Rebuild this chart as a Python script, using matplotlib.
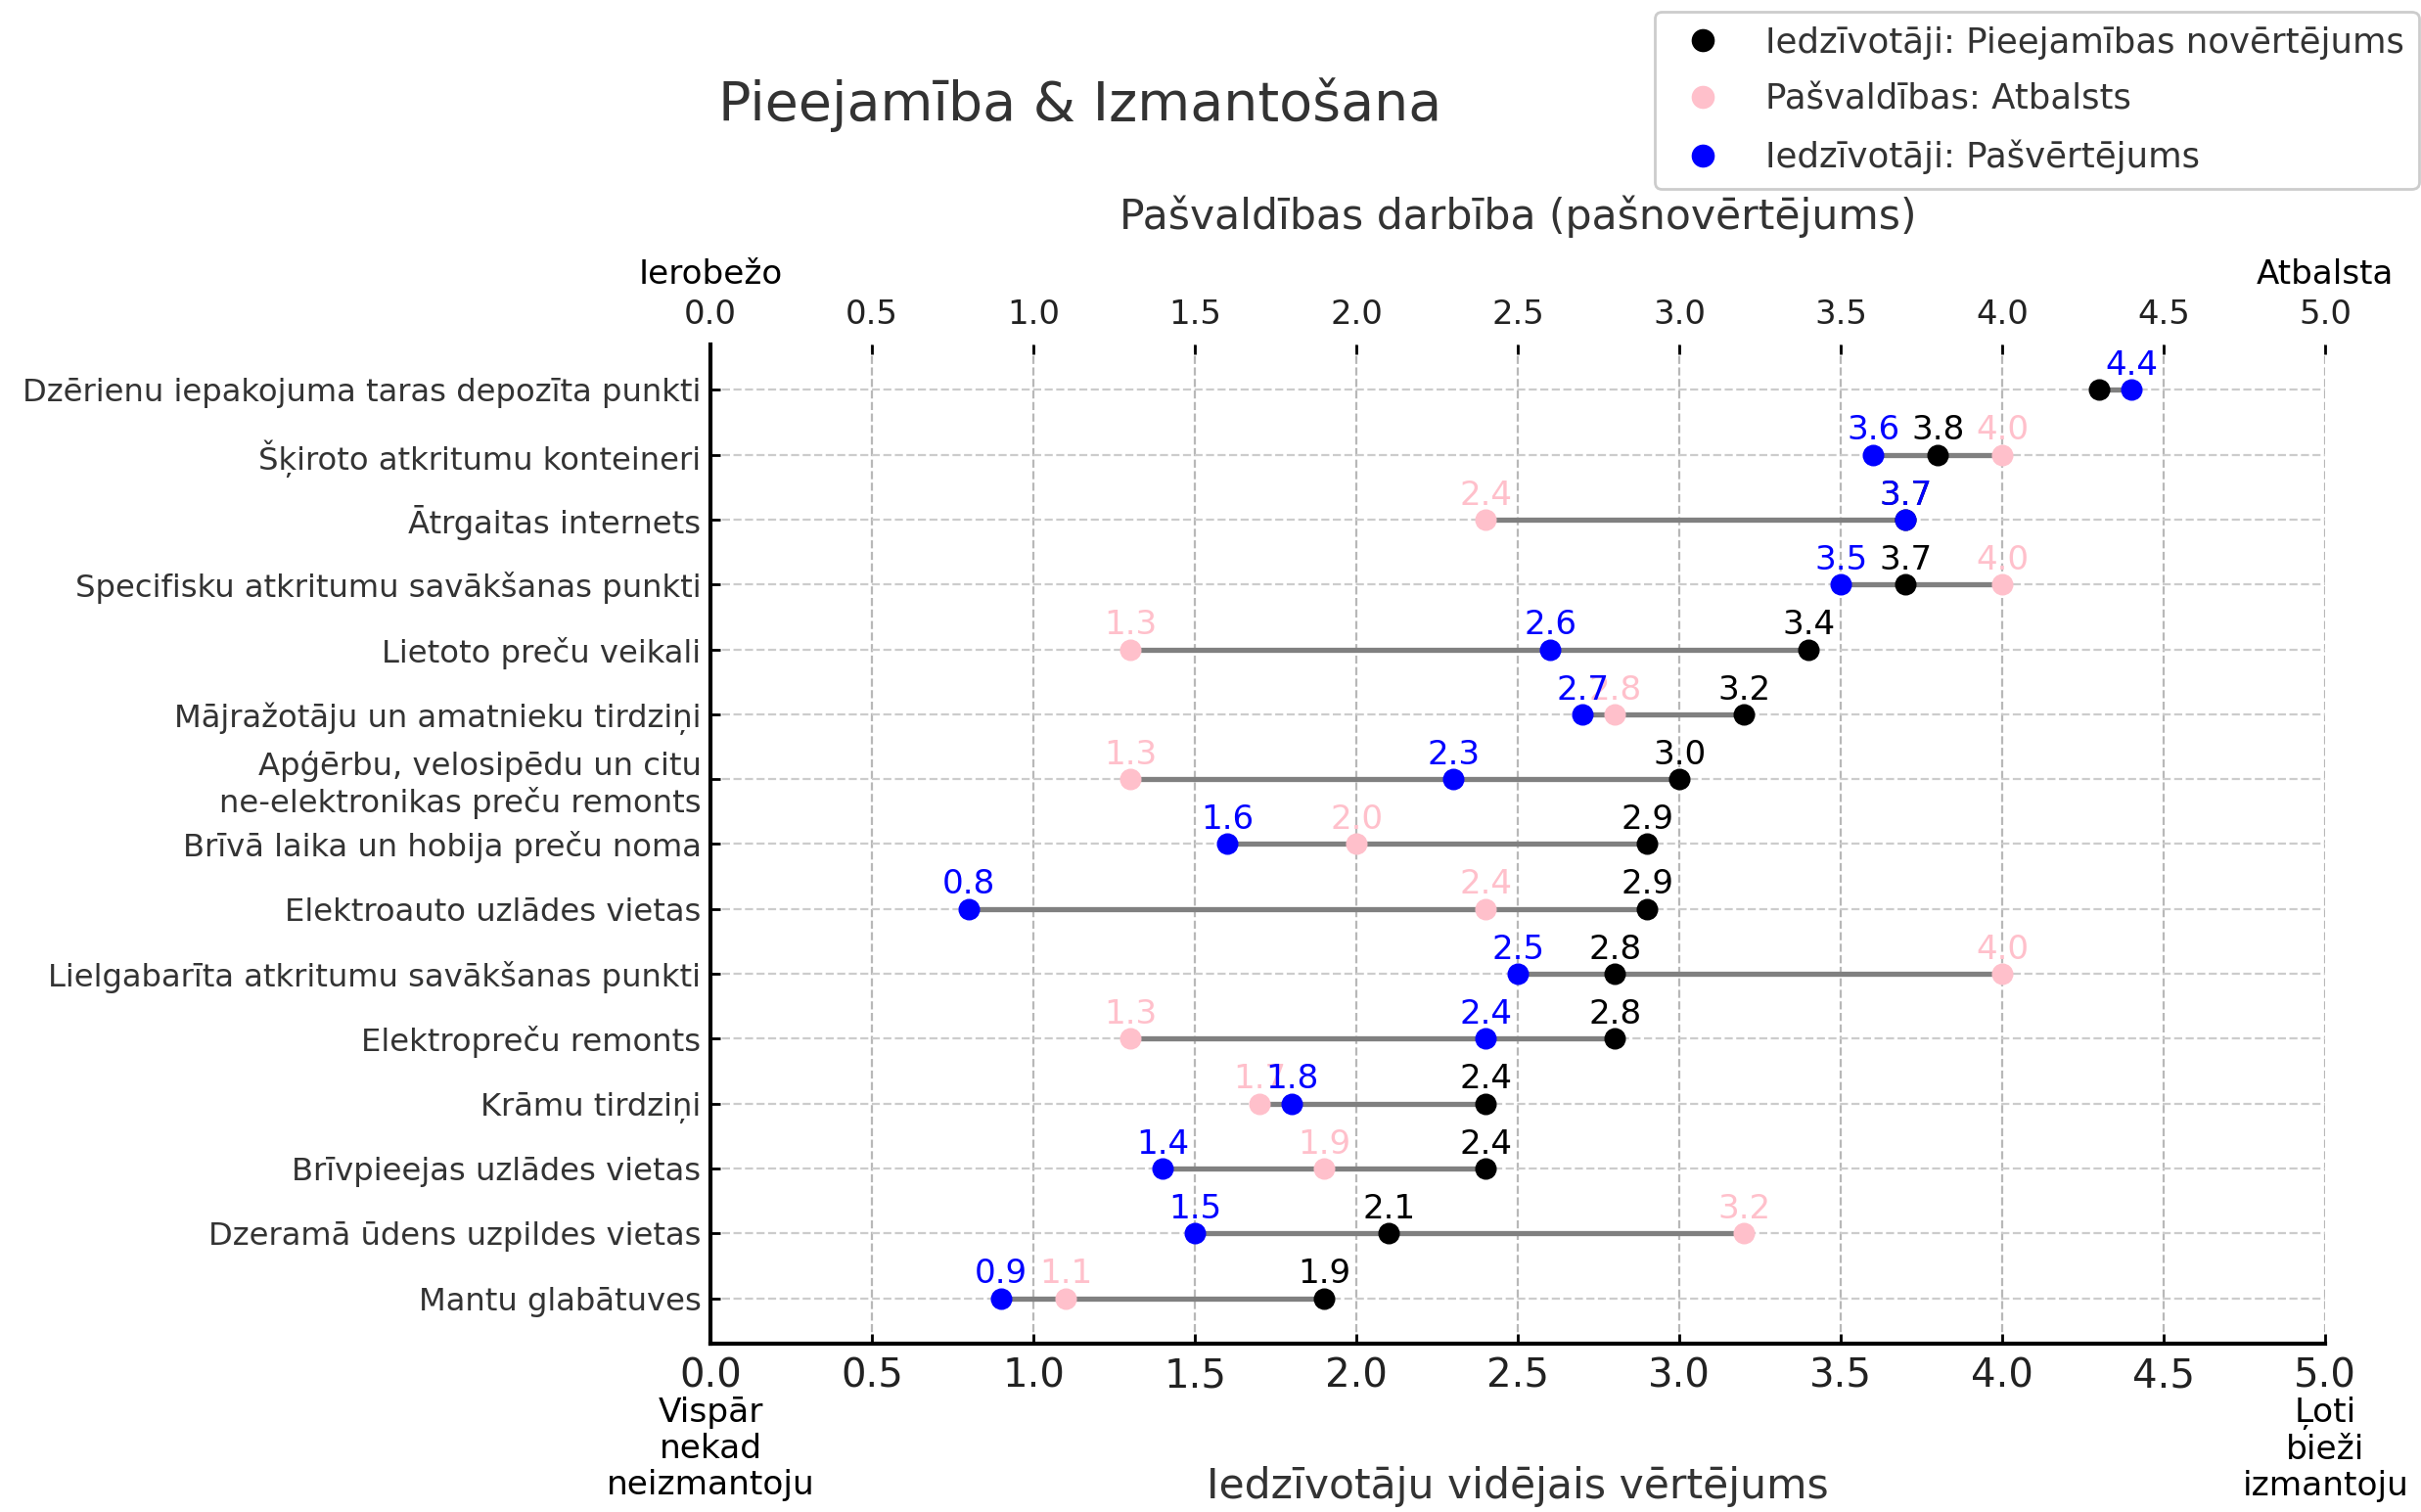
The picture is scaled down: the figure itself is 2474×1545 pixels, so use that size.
import numpy as np
import matplotlib
matplotlib.use("Agg")
import matplotlib.pyplot as plt
from matplotlib.lines import Line2D

# Kategorijas (no augšas uz leju)
kategorijas = [
    "Dzērienu iepakojuma taras depozīta punkti",
    "Šķiroto atkritumu konteineri",
    "Ātrgaitas internets",
    "Specifisku atkritumu savākšanas punkti",
    "Lietoto preču veikali",
    "Mājražotāju un amatnieku tirdziņi",
    "Apģērbu, velosipēdu un citu\nne-elektronikas preču remonts",
    "Brīvā laika un hobija preču noma",
    "Elektroauto uzlādes vietas",
    "Lielgabarīta atkritumu savākšanas punkti",
    "Elektropreču remonts",
    "Krāmu tirdziņi",
    "Brīvpieejas uzlādes vietas",
    "Dzeramā ūdens uzpildes vietas",
    "Mantu glabātuves",
]

# Iedzīvotāji: Pieejamības novērtējums
pieejamiba = [4.3, 3.8, 3.7, 3.7, 3.4, 3.2, 3.0, 2.9, 2.9, 2.8, 2.8, 2.4, 2.4, 2.1, 1.9]
# Pašvaldības: Atbalsts
atbalsts = [np.nan, 4.0, 2.4, 4.0, 1.3, 2.8, 1.3, 2.0, 2.4, 4.0, 1.3, 1.7, 1.9, 3.2, 1.1]
# Iedzīvotāji: Pašvērtējums
pasvertejums = [4.4, 3.6, 3.7, 3.5, 2.6, 2.7, 2.3, 1.6, 0.8, 2.5, 2.4, 1.8, 1.4, 1.5, 0.9]

x_ticks = [0.0, 0.5, 1.0, 1.5, 2.0, 2.5, 3.0, 3.5, 4.0, 4.5, 5.0]

TEKSTS = "#333333"

fig = plt.figure(figsize=(12.37, 7.725), dpi=200)
ax = fig.add_axes([0.2935, 0.1113, 0.667, 0.6609])

y = np.arange(len(kategorijas))
a = np.array(pieejamiba)
b = np.array(atbalsts)
c = np.array(pasvertejums)

# Pelēkās līnijas no min līdz max
lo = np.nanmin(np.vstack([a, b, c]), axis=0)
hi = np.nanmax(np.vstack([a, b, c]), axis=0)
ax.hlines(y, lo, hi, color="gray", linewidth=1.9, zorder=2)

serijas = [
    (a, "black", "Iedzīvotāji: Pieejamības novērtējums"),
    (b, "pink", "Pašvaldības: Atbalsts"),
    (c, "blue", "Iedzīvotāji: Pašvērtējums"),
]
for vals, krasa, nos in serijas:
    ax.scatter(vals, y, color=krasa, s=48, zorder=3, label=nos)
    for i, v in enumerate(vals):
        if np.isnan(v):
            continue
        if krasa == "black" and np.isnan(b[i]):
            continue  # pirmajā rindā melnais uzraksts nav redzams
        ax.annotate(f"{v:.1f}", (v, i), xytext=(0, 3), textcoords="offset points",
                    ha="center", va="bottom", color=krasa, fontsize=12.3, zorder=4)

ax.set_xlim(0, 5)
ax.set_yticks(y)
ax.set_yticklabels(kategorijas, fontsize=11.6, color=TEKSTS)
ax.invert_yaxis()
ax.set_xticks(x_ticks)
ax.set_xticklabels([f"{t:.1f}" for t in x_ticks], fontsize=14.5, color="#222222")
ax.tick_params(axis="both", direction="in", length=3.6, width=1.0)
ax.tick_params(axis="x", pad=5)

ax.grid(True, axis="y", linestyle="--", color="#cccccc", linewidth=0.8)
ax.grid(True, axis="x", linestyle="--", color="#b8b8b8", linewidth=0.8)
ax.set_axisbelow(True)
for s in ["top", "right"]:
    ax.spines[s].set_visible(False)
for s in ["left", "bottom"]:
    ax.spines[s].set_linewidth(1.5)

ax.set_xlabel("Iedzīvotāju vidējais vērtējums", fontsize=15.3, color=TEKSTS)
ax.xaxis.set_label_coords(0.5, -0.122)
ax.text(0, -0.053, "Vispār\nnekad\nneizmantoju", transform=ax.get_xaxis_transform(),
        ha="center", va="top", fontsize=12.4, linespacing=1.15)
ax.text(5, -0.053, "Ļoti\nbieži\nizmantoju", transform=ax.get_xaxis_transform(),
        ha="center", va="top", fontsize=12.4, linespacing=1.15)

# Augšējā ass
ax2 = ax.twiny()
ax2.set_xlim(0, 5)
ax2.set_xticks(x_ticks)
ax2.set_xticklabels([f"{t:.1f}" for t in x_ticks], fontsize=12.2, color="#222222")
ax2.tick_params(axis="x", direction="in", length=3.6, width=1.0, pad=5)
for s in ax2.spines.values():
    s.set_visible(False)
ax2.set_xlabel("Pašvaldības darbība (pašnovērtējums)", fontsize=15.3, color=TEKSTS)
ax2.xaxis.set_label_coords(0.5, 1.116)
ax2.text(0, 1.0695, "Ierobežo", transform=ax2.get_xaxis_transform(),
         ha="center", va="center", fontsize=12.3)
ax2.text(5, 1.0695, "Atbalsta", transform=ax2.get_xaxis_transform(),
         ha="center", va="center", fontsize=12.3)

fig.text(0.446, 0.9307, "Pieejamība & Izmantošana", ha="center", va="center",
         fontsize=20, color=TEKSTS)

handles = [Line2D([], [], marker="o", linestyle="", color=k, markersize=7.5) for _, k, _ in serijas]
fig.legend(handles, [n for _, _, n in serijas], loc="upper right",
           bbox_to_anchor=(0.999, 0.992), borderaxespad=0, fontsize=12.8,
           labelcolor=TEKSTS, framealpha=1, labelspacing=0.68)

fig.savefig("out.png", dpi=200)
